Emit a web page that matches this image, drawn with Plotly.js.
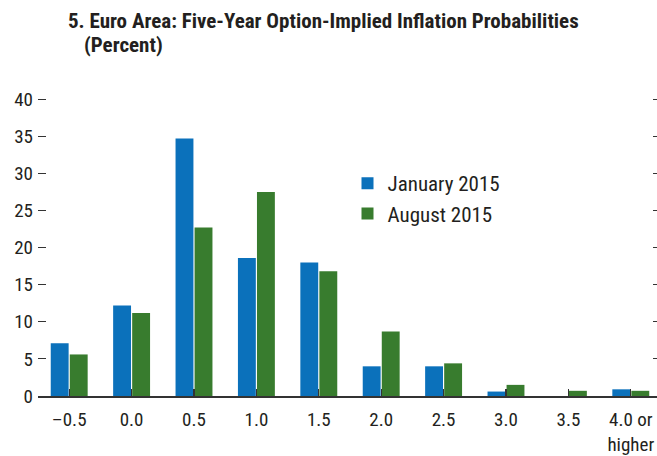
<!DOCTYPE html>
<html>
<head>
<meta charset="utf-8">
<script src="https://cdn.plot.ly/plotly-3.0.1.min.js"></script>
<style>html,body{margin:0;padding:0;background:#fff;}#chart{width:657px;height:456px;}</style>
</head>
<body>
<div id="chart"></div>
<script>
const categories = ["\u20130.5", "0.0", "0.5", "1.0", "1.5", "2.0", "2.5", "3.0", "3.5", "4.0 or<br>higher"];
const january2015 = [7.1, 12.2, 34.7, 18.6, 18.0, 4.0, 4.0, 0.6, 0.0, 0.9];
const august2015 = [5.6, 11.2, 22.7, 27.5, 16.8, 8.7, 4.4, 1.5, 0.7, 0.7];
const yTicks = [0, 5, 10, 15, 20, 25, 30, 35, 40];

const FONT = "'Roboto Condensed', 'Open Sans Condensed', sans-serif";
const TXT = '#231F20';
const idx = categories.map((_, i) => i);

const traces = [
  {type: 'bar', name: 'January 2015', x: idx, y: january2015, marker: {color: '#0B71BB'}},
  {type: 'bar', name: 'August 2015', x: idx, y: august2015, marker: {color: '#387C2E'}},
  {type: 'scatter', x: [], y: [], yaxis: 'y2', showlegend: false, hoverinfo: 'skip'}
];

const T = 97, B = 60, H = 456 - T - B;

const layout = {
  width: 657, height: 456,
  margin: {l: 38, r: 0, t: T, b: B, pad: 0},
  paper_bgcolor: '#fff', plot_bgcolor: '#fff',
  font: {family: FONT, size: 19, color: TXT},
  barmode: 'group', bargap: 0.39, bargroupgap: 0.06,
  showlegend: true,
  legend: {x: 0.50, y: 1 - (163 - T) / H, xanchor: 'left', yanchor: 'top', bgcolor: 'rgba(0,0,0,0)',
           traceorder: 'normal',
           font: {family: FONT, size: 21, color: TXT}, itemwidth: 30},
  title: {text: '<b>5. Euro Area: Five-Year Option-Implied Inflation Probabilities</b>',
          x: 68/657, xanchor: 'left', xref: 'container', y: 1 - 28/456, yanchor: 'bottom', yref: 'container',
          font: {family: FONT, size: 21, color: TXT}},
  annotations: [{text: '<b>(Percent)</b>', xref: 'paper', yref: 'paper', x: (86-38)/619, y: 1 + (T - 59)/H,
                 xanchor: 'left', yanchor: 'bottom', showarrow: false, xshift: -4,
                 font: {family: FONT, size: 21, color: TXT}}],
  xaxis: {
    range: [-0.5, 9.42], tickmode: 'array', tickvals: idx, ticktext: categories,
    tickson: 'boundaries', ticks: 'inside', ticklen: 7, tickwidth: 1.2, tickcolor: '#333',
    showline: true, linecolor: '#333', linewidth: 1.5, showgrid: false, zeroline: false,
    ticklabelstandoff: 6, ticklabeloverflow: 'allow',
    tickfont: {family: FONT, size: 19, color: TXT}, fixedrange: true
  },
  yaxis: {
    range: [0, 40.3], tickmode: 'array', tickvals: yTicks, ticktext: yTicks.map(String),
    ticks: 'inside', ticklen: 8, tickwidth: 1, tickcolor: '#333',
    showline: false, showgrid: false, zeroline: false, ticklabelstandoff: 4,
    tickfont: {family: FONT, size: 19, color: TXT}, fixedrange: true
  },
  yaxis2: {
    overlaying: 'y', side: 'right', range: [0, 40.3], tickmode: 'array', tickvals: yTicks,
    showticklabels: false, ticks: 'inside', ticklen: 4, tickwidth: 1, tickcolor: '#333',
    showline: false, showgrid: false, zeroline: false, fixedrange: true
  }
};

Plotly.newPlot('chart', traces, layout, {displayModeBar: false, staticPlot: true});
</script>
</body>
</html>
